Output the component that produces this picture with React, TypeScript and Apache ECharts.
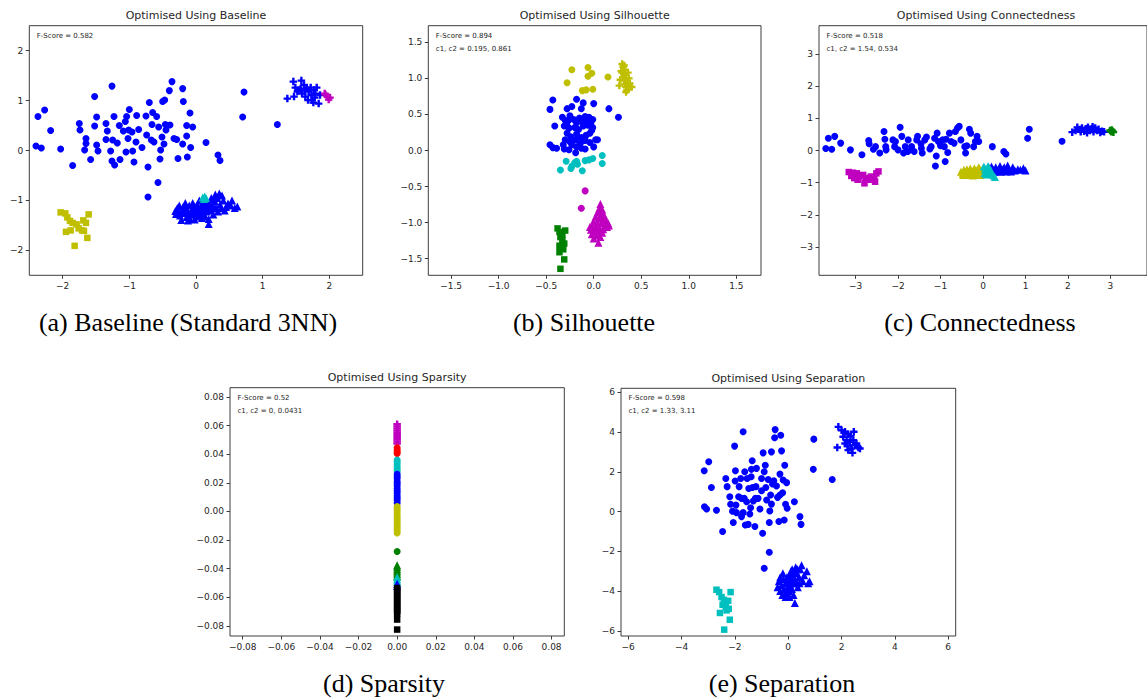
import React, { useEffect, useRef } from "react";
import * as echarts from "echarts";

type P = [number, number];

// ---------- (a) Baseline ----------
const A_BLUE_CIRCLES: P[] = [
  [-2.40, 0.09], [-2.32, 0.05], [-2.37, 0.68], [-2.27, 0.81], [-2.18, 0.40], [-2.03, 0.03], [-1.85, -0.30],
  [-1.75, 0.54], [-1.74, 0.41], [-1.65, 0.24], [-1.65, 0.14], [-1.67, 0.01], [-1.58, -0.18], [-1.52, 1.08],
  [-1.49, 0.67], [-1.52, 0.49], [-1.49, 0.11], [-1.47, -0.01], [-1.35, 0.54], [-1.33, 0.39], [-1.35, 0.22],
  [-1.28, -0.01], [-1.26, 1.29], [-1.23, 0.68], [-1.25, 0.21], [-1.26, -0.21], [-1.22, -0.29], [-1.18, 0.15],
  [-1.15, 0.50], [-1.14, -0.18], [-1.09, 0.39], [-1.06, 0.58], [-1.04, 0.68], [-1.00, 0.82], [-1.02, 0.24],
  [-1.05, -0.03], [-1.01, 0.41], [-0.96, 0.37], [-0.95, -0.01], [-0.93, -0.23], [-0.90, 0.17], [-0.89, 0.70],
  [-0.86, 0.42], [-0.81, 0.06], [-0.75, 0.69], [-0.74, 0.31], [-0.72, -0.33], [-0.67, 0.21], [-0.66, 0.52],
  [-0.65, 0.76], [-0.63, 0.17], [-0.59, 0.68], [-0.70, 0.96], [-0.56, 0.47], [-0.54, -0.17], [-0.51, 0.27],
  [-0.48, 0.13], [-0.46, 0.52], [-0.50, 0.98], [-0.47, 1.01], [-0.53, 0.01], [-0.45, 0.41], [-0.40, 1.20],
  [-0.36, 1.38], [-0.39, 0.51], [-0.33, 0.24], [-0.29, 0.22], [-0.27, -0.16], [-0.20, 1.24], [-0.19, 0.98],
  [-0.20, 0.13], [-0.14, 0.29], [-0.14, 0.50], [-0.13, -0.13], [-0.09, 0.75], [-0.08, 0.06], [-0.05, 0.47],
  [0.15, 0.16], [0.33, -0.09], [0.36, -0.20], [-0.57, -0.64], [-0.72, -0.93], [0.70, 0.67], [0.72, 1.17],
  [1.22, 0.52],
];
const A_BLUE_TRIANGLES: P[] = [
  [-0.31, -1.21], [-0.30, -1.27], [-0.28, -1.15], [-0.25, -1.10], [-0.24, -1.30], [-0.22, -1.39], [-0.20, -1.20],
  [-0.18, -1.25], [-0.16, -1.05], [-0.15, -1.15], [-0.14, -1.33], [-0.12, -1.22], [-0.10, -1.10], [-0.09, -1.37],
  [-0.08, -1.28], [-0.06, -1.18], [-0.05, -1.05], [-0.04, -1.25], [-0.02, -1.12], [0.00, -1.32], [0.00, -1.20],
  [0.02, -1.08], [0.03, -1.16], [0.04, -1.28], [0.05, -1.00], [0.06, -1.22], [0.08, -1.12], [0.09, -1.35],
  [0.10, -1.05], [0.11, -1.18], [0.12, -1.27], [0.14, -1.10], [0.15, -1.00], [0.16, -1.22], [0.18, -1.15],
  [0.19, -1.37], [0.19, -1.47], [0.20, -1.05], [0.22, -1.20], [0.23, -0.95], [0.25, -1.10], [0.26, -1.28],
  [0.28, -1.02], [0.29, -0.88], [0.30, -1.15], [0.32, -0.95], [0.33, -1.22], [0.35, -0.86], [0.36, -1.08],
  [0.38, -1.15], [0.39, -0.90], [0.41, -1.00], [0.43, -1.20], [0.45, -1.13], [0.48, -1.06], [0.52, -1.10],
  [0.54, -1.00], [0.58, -1.15], [0.62, -1.12], [-0.27, -1.22], [-0.10, -1.28], [0.07, -1.30], [-0.19, -1.12],
  [0.13, -1.32], [0.24, -1.16], [-0.02, -1.38], [0.17, -1.08], [0.27, -0.98], [-0.12, -1.40],
];
const A_CYAN_TRIANGLES: P[] = [[0.10, -0.94], [0.13, -0.92], [0.12, -0.97], [0.15, -0.95]];
const A_YELLOW_SQUARES: P[] = [
  [-2.03, -1.24], [-1.96, -1.26], [-1.93, -1.34], [-1.89, -1.41], [-1.85, -1.45], [-1.79, -1.48], [-1.88, -1.60],
  [-1.95, -1.63], [-1.69, -1.40], [-1.65, -1.45], [-1.71, -1.60], [-1.68, -1.61], [-1.63, -1.75], [-1.61, -1.28],
  [-1.82, -1.91], [-1.76, -1.56],
];
const A_BLUE_PLUS: P[] = [
  [1.37, 1.04], [1.46, 1.38], [1.49, 1.26], [1.54, 1.21], [1.58, 1.40], [1.62, 1.31], [1.66, 1.26], [1.69, 1.18],
  [1.73, 1.11], [1.77, 1.21], [1.81, 1.26], [1.74, 1.01], [1.78, 1.06], [1.84, 0.94], [1.72, 1.26], [1.59, 1.14],
  [1.64, 1.08], [1.68, 1.01], [1.57, 1.24], [1.47, 1.08], [1.52, 1.18], [1.86, 1.11], [1.63, 1.20], [1.79, 1.14],
  [1.76, 0.96],
];
const A_MAGENTA_PLUS: P[] = [[1.94, 1.12], [1.97, 1.08], [1.99, 1.02], [1.93, 1.14], [2.01, 1.06]];

// ---------- (b) Silhouette ----------
const B_YELLOW_CIRCLES: P[] = [
  [-0.23, 1.12], [-0.06, 1.15], [-0.06, 1.03], [-0.02, 1.07], [-0.28, 0.94], [0.15, 1.02], [-0.12, 0.83],
  [-0.08, 0.84], [-0.01, 0.85],
];
const B_YELLOW_PLUS: P[] = [
  [0.30, 1.20], [0.31, 1.16], [0.32, 1.12], [0.30, 1.08], [0.33, 1.05], [0.31, 1.02], [0.34, 1.00], [0.32, 0.97],
  [0.35, 0.95], [0.33, 0.92], [0.36, 0.90], [0.34, 0.88], [0.37, 0.86], [0.35, 0.84], [0.28, 0.98], [0.38, 0.93],
  [0.36, 1.08], [0.29, 1.10], [0.34, 0.81], [0.32, 1.18], [0.40, 0.88], [0.27, 0.90], [0.37, 1.00],
];
const B_BLUE_CIRCLES: P[] = [
  [-0.43, 0.70], [-0.46, 0.57], [-0.18, 0.71], [-0.11, 0.66], [0.00, 0.65], [0.16, 0.58], [0.26, 0.46],
  [-0.28, 0.58], [-0.23, 0.61], [-0.13, 0.58], [-0.09, 0.47], [-0.05, 0.46], [-0.01, 0.43], [-0.33, 0.46],
  [-0.30, 0.42], [-0.25, 0.48], [-0.21, 0.43], [-0.18, 0.38], [-0.12, 0.40], [-0.07, 0.42], [-0.03, 0.38],
  [-0.41, 0.34], [-0.31, 0.34], [-0.26, 0.31], [-0.20, 0.32], [-0.16, 0.29], [-0.11, 0.34], [-0.06, 0.35],
  [-0.02, 0.28], [-0.28, 0.24], [-0.24, 0.19], [-0.18, 0.23], [-0.13, 0.18], [-0.08, 0.21], [-0.04, 0.24],
  [0.04, 0.15], [-0.30, 0.15], [-0.25, 0.12], [-0.19, 0.15], [-0.14, 0.10], [-0.09, 0.14], [-0.04, 0.11],
  [0.00, 0.05], [-0.46, 0.08], [-0.43, 0.04], [-0.39, 0.03], [-0.31, 0.02], [-0.26, 0.01], [-0.19, -0.03],
  [-0.13, 0.03], [-0.09, 0.02], [-0.32, 0.08], [-0.18, 0.05], [-0.27, 0.41], [-0.15, 0.45], [-0.23, 0.08],
  [-0.01, 0.32], [0.02, 0.15], [-0.28, 0.34],
];
const B_CYAN_CIRCLES: P[] = [
  [-0.29, -0.15], [-0.20, -0.17], [-0.17, -0.19], [-0.23, -0.22], [-0.35, -0.27], [-0.12, -0.28], [-0.09, -0.14],
  [-0.05, -0.13], [-0.01, -0.11], [0.09, -0.07], [0.09, -0.18], [-0.18, -0.15], [-0.24, -0.25],
];
const B_MAGENTA_CIRCLES: P[] = [[-0.09, -0.56], [-0.13, -0.80]];
const B_MAGENTA_TRIANGLES: P[] = [
  [0.07, -0.74], [0.06, -0.80], [0.09, -0.82], [0.04, -0.86], [0.08, -0.88], [0.11, -0.90], [0.02, -0.92],
  [0.06, -0.94], [0.10, -0.96], [0.13, -0.97], [0.00, -0.98], [0.04, -1.00], [0.08, -1.01], [0.12, -1.03],
  [0.15, -1.00], [-0.02, -1.04], [0.02, -1.06], [0.06, -1.07], [0.10, -1.09], [0.14, -1.06], [-0.03, -1.10],
  [0.01, -1.12], [0.05, -1.13], [0.09, -1.14], [-0.02, -1.16], [0.03, -1.18], [0.07, -1.20], [0.00, -1.22],
  [0.05, -1.28], [0.16, -1.04], [-0.04, -1.06], [0.11, -0.93],
];
const B_GREEN_SQUARES: P[] = [
  [-0.38, -1.08], [-0.36, -1.13], [-0.30, -1.11], [-0.35, -1.20], [-0.33, -1.24], [-0.31, -1.29], [-0.36, -1.32],
  [-0.32, -1.37], [-0.36, -1.41], [-0.31, -1.51], [-0.35, -1.64], [-0.33, -1.17],
];

// ---------- (c) Connectedness ----------
const C_BLUE_CIRCLES: P[] = [
  [-3.70, 0.06], [-3.64, 0.38], [-3.56, 0.04], [-3.49, 0.44], [-3.35, 0.23], [-3.12, 0.02], [-2.85, -0.13],
  [-2.69, 0.31], [-2.68, 0.21], [-2.58, 0.04], [-2.53, 0.12], [-2.43, -0.08], [-2.33, 0.59], [-2.31, 0.35],
  [-2.28, 0.02], [-2.29, 0.12], [-2.08, 0.12], [-2.06, 0.28], [-1.95, 0.72], [-1.91, 0.44], [-1.87, -0.08],
  [-1.83, 0.12], [-1.76, 0.33], [-1.68, 0.12], [-1.62, -0.03], [-1.56, 0.33], [-1.54, 0.44], [-1.46, 0.21],
  [-1.43, -0.08], [-1.37, 0.33], [-1.33, 0.42], [-1.25, 0.05], [-1.22, 0.12], [-1.14, 0.38], [-1.10, -0.17],
  [-1.08, 0.54], [-1.05, 0.28], [-1.00, 0.15], [-0.95, 0.33], [-0.87, 0.35], [-0.83, -0.06], [-0.79, 0.54],
  [-0.75, 0.28], [-0.68, 0.23], [-0.65, 0.59], [-0.60, 0.70], [-0.56, 0.75], [-0.52, 0.33], [-0.43, 0.12],
  [-0.41, -0.08], [-0.32, 0.66], [-0.29, 0.54], [-0.22, 0.12], [-0.18, 0.28], [-0.14, 0.44], [-0.10, 0.28],
  [0.22, 0.12], [0.49, -0.03], [0.54, -0.11], [-1.12, -0.48], [-0.89, -0.34], [1.05, 0.38], [1.09, 0.66],
  [1.86, 0.29], [-2.12, 0.33], [-2.00, 0.02], [-1.45, 0.07], [-1.77, -0.03], [-0.91, 0.12], [-0.38, 0.15],
];
const C_MAGENTA_SQUARES: P[] = [
  [-3.16, -0.67], [-3.06, -0.69], [-2.97, -0.71], [-2.91, -0.81], [-2.82, -0.76], [-2.76, -0.86], [-2.68, -0.91],
  [-2.56, -0.89], [-2.51, -0.71], [-2.46, -0.65], [-3.03, -0.86], [-2.79, -1.02], [-2.54, -0.97], [-2.95, -0.91],
  [-2.64, -0.81], [-3.10, -0.79],
];
const C_YELLOW_TRIANGLES: P[] = [
  [-0.52, -0.66], [-0.48, -0.72], [-0.45, -0.60], [-0.42, -0.68], [-0.40, -0.76], [-0.36, -0.62], [-0.33, -0.70],
  [-0.30, -0.56], [-0.28, -0.74], [-0.25, -0.64], [-0.22, -0.70], [-0.20, -0.55], [-0.17, -0.76], [-0.15, -0.62],
  [-0.12, -0.68], [-0.10, -0.52], [-0.08, -0.74], [-0.05, -0.60], [-0.03, -0.70], [0.00, -0.56], [0.01, -0.66],
  [-0.38, -0.58], [-0.24, -0.78], [-0.06, -0.76], [-0.46, -0.76],
];
const C_BLUE_TRIANGLES: P[] = [
  [0.15, -0.55], [0.20, -0.50], [0.25, -0.60], [0.30, -0.52], [0.35, -0.62], [0.40, -0.48], [0.45, -0.58],
  [0.50, -0.52], [0.55, -0.65], [0.58, -0.47], [0.62, -0.58], [0.66, -0.65], [0.70, -0.52], [0.75, -0.62],
  [0.82, -0.58], [0.88, -0.60], [0.95, -0.55], [1.00, -0.62], [0.42, -0.66], [0.28, -0.66], [0.52, -0.60],
];
const C_CYAN_TRIANGLES: P[] = [
  [0.02, -0.50], [0.05, -0.58], [0.08, -0.64], [0.04, -0.70], [0.10, -0.55], [0.13, -0.62], [0.16, -0.70],
  [0.20, -0.74], [0.25, -0.78], [0.28, -0.82], [0.07, -0.75], [0.12, -0.48], [0.18, -0.60],
];
const C_BLUE_PLUS: P[] = [
  [2.10, 0.57], [2.18, 0.62], [2.22, 0.72], [2.28, 0.65], [2.33, 0.70], [2.38, 0.60], [2.42, 0.68], [2.47, 0.72],
  [2.52, 0.62], [2.56, 0.67], [2.60, 0.58], [2.64, 0.70], [2.68, 0.62], [2.72, 0.66], [2.76, 0.56], [2.80, 0.60],
  [2.85, 0.58], [2.45, 0.55], [2.30, 0.58], [2.58, 0.74],
];
const C_GREEN_PLUS: P[] = [[2.99, 0.62], [3.02, 0.58], [3.05, 0.60], [3.03, 0.64], [3.07, 0.57]];

// ---------- (d) Sparsity (all x = 0) ----------
const D_MAGENTA_PLUS: number[] = [0.061, 0.0595, 0.058, 0.0565, 0.055, 0.0535, 0.052, 0.0505, 0.049, 0.0475];
const D_RED_CIRCLES: number[] = [0.0445, 0.043, 0.0415, 0.0405];
const D_CYAN_CIRCLES: number[] = [0.036, 0.0345, 0.033, 0.031, 0.0295, 0.028];
const D_BLUE_CIRCLES: number[] = [0.026, 0.0245, 0.023, 0.021, 0.0195, 0.018, 0.016, 0.0145, 0.013, 0.011, 0.0095, 0.008, 0.006];
const D_YELLOW_CIRCLES: number[] = [0.0035, 0.002, 0.0005, -0.001, -0.003, -0.0045, -0.006, -0.0075, -0.009, -0.0105, -0.012, -0.0135, -0.015];
const D_GREEN_CIRCLES: number[] = [-0.028];
const D_GREEN_TRIANGLES: number[] = [-0.0375, -0.039, -0.0405, -0.042, -0.0435, -0.045];
const D_CYAN_TRIANGLES: number[] = [-0.046, -0.0475, -0.049];
const D_BLUE_TRIANGLES: number[] = [-0.0505, -0.052];
const D_BLACK_SQUARES: number[] = [
  -0.0535, -0.055, -0.0565, -0.058, -0.0595, -0.061, -0.0625, -0.064, -0.0655, -0.067, -0.0685, -0.070, -0.0715,
  -0.0755, -0.0825,
];

// ---------- (e) Separation ----------
const E_BLUE_CIRCLES: P[] = [
  [-3.14, 0.25], [-3.06, 0.13], [-3.15, 2.06], [-2.98, 2.51], [-2.88, 1.22], [-2.69, 0.07], [-2.46, -1.00],
  [-2.34, 1.67], [-2.29, 1.26], [-2.19, 0.75], [-2.16, 0.37], [-2.09, 0.02], [-2.06, -0.55], [-2.01, 3.30],
  [-1.98, 2.06], [-1.99, 1.54], [-1.96, 0.33], [-1.94, -0.05], [-1.84, 1.26], [-1.78, 1.67], [-1.75, 0.67],
  [-1.69, -0.05], [-1.65, 0.67], [-1.63, 2.01], [-1.61, -0.67], [-1.56, 0.50], [-1.54, 1.67], [-1.50, -0.64],
  [-1.48, 1.17], [-1.44, -0.12], [-1.39, 1.76], [-1.38, 2.13], [-1.35, 2.56], [-1.34, 1.22], [-1.31, 0.54],
  [-1.25, -0.75], [-1.21, 1.26], [-1.19, 2.18], [-1.13, 0.67], [-1.06, 0.13], [-1.00, 1.05], [-0.96, -1.09],
  [-0.94, 2.96], [-0.90, 2.01], [-0.86, 2.34], [-0.81, 0.59], [-0.75, 1.62], [-0.69, 0.03], [-0.71, -0.55],
  [-0.66, 0.84], [-0.63, 3.01], [-0.63, 0.38], [-0.59, 1.39], [-0.54, 1.56], [-0.51, 3.72], [-0.49, 4.13],
  [-0.44, 1.29], [-0.40, 0.72], [-0.35, -0.50], [-0.31, 1.89], [-0.28, 3.85], [-0.25, 3.06], [-0.21, 0.95],
  [-0.19, 1.59], [-0.15, -0.42], [-0.13, 2.34], [-0.10, 0.37], [-0.06, 1.46], [-0.04, 0.17], [0.23, 0.50],
  [0.44, -0.25], [0.48, -0.64], [0.94, 2.13], [0.96, 3.65], [1.65, 1.62], [-1.69, 4.02], [-0.90, -2.85],
  [-0.71, -2.04], [-1.23, 0.67], [-1.00, 1.67], [-1.41, 0.20], [-1.75, -0.25], [-1.86, 0.75], [-0.84, 1.22],
  [-0.31, 0.84],
];
const E_CYAN_SQUARES: P[] = [
  [-2.69, -3.93], [-2.59, -4.05], [-2.50, -4.30], [-2.41, -4.44], [-2.34, -4.80], [-2.25, -4.49], [-2.16, -4.05],
  [-2.23, -4.89], [-2.56, -5.10], [-2.31, -4.97], [-2.40, -5.94], [-2.19, -5.44], [-2.46, -4.69],
];
const E_BLUE_TRIANGLES: P[] = [
  [-0.40, -3.8], [-0.35, -3.5], [-0.30, -4.0], [-0.25, -3.7], [-0.22, -4.2], [-0.18, -3.4], [-0.15, -3.9],
  [-0.10, -3.6], [-0.08, -4.1], [-0.05, -3.3], [-0.02, -3.8], [0.00, -3.5], [0.03, -4.0], [0.05, -3.2],
  [0.08, -3.7], [0.10, -3.0], [0.12, -3.4], [0.14, -3.9], [0.16, -3.2], [0.18, -3.6], [0.20, -4.2], [0.22, -3.0],
  [0.25, -3.4], [0.28, -2.8], [0.30, -3.6], [0.33, -3.1], [0.36, -3.8], [0.40, -3.3], [0.45, -2.9], [0.50, -2.7],
  [0.55, -3.5], [0.60, -3.2], [0.70, -3.0], [0.80, -3.5], [0.75, -3.6], [0.25, -4.6], [-0.10, -4.3], [0.05, -4.3],
  [-0.30, -3.3], [0.15, -2.9], [0.35, -2.9], [-0.20, -3.1], [0.42, -3.6],
];
const E_BLUE_PLUS: P[] = [
  [1.88, 4.27], [2.00, 4.10], [2.13, 4.02], [2.25, 3.90], [2.06, 3.77], [2.19, 3.60], [2.31, 3.51], [2.44, 3.60],
  [2.50, 3.35], [2.63, 3.23], [2.38, 3.18], [2.25, 3.10], [2.41, 2.96], [1.84, 3.23], [2.56, 3.43], [2.13, 3.43],
  [2.34, 3.80], [2.69, 3.18], [2.46, 4.02], [2.22, 3.30],
];

// ---------- ticks / titles ----------
const TICKS_A = [-2, -1, 0, 1, 2];
const TICKS_B = [-1.5, -1, -0.5, 0, 0.5, 1, 1.5];
const TICKS_C = [-3, -2, -1, 0, 1, 2, 3];
const TICKS_D = [-0.08, -0.06, -0.04, -0.02, 0, 0.02, 0.04, 0.06, 0.08];
const TICKS_E = [-6, -4, -2, 0, 2, 4, 6];

const TITLES = [
  "Optimised Using Baseline",
  "Optimised Using Silhouette",
  "Optimised Using Connectedness",
  "Optimised Using Sparsity",
  "Optimised Using Separation",
];
const NOTES = [
  ["F-Score = 0.582"],
  ["F-Score = 0.894", "c1, c2 = 0.195, 0.861"],
  ["F-Score = 0.518", "c1, c2 = 1.54, 0.534"],
  ["F-Score = 0.52", "c1, c2 = 0, 0.0431"],
  ["F-Score = 0.598", "c1, c2 = 1.33, 3.11"],
];
const CAPTIONS = [
  "(a) Baseline (Standard 3NN)",
  "(b) Silhouette",
  "(c) Connectedness",
  "(d) Sparsity",
  "(e) Separation",
];

const BLUE = "#0000ff";
const CYAN = "#00bfbf";
const MAGENTA = "#bf00bf";
const YELLOW = "#bfbf00";
const GREEN = "#008000";
const RED = "#ff0000";
const BLACK = "#000000";

const PLUS = "path://M3.4,0H6.6V3.4H10V6.6H6.6V10H3.4V6.6H0V3.4H3.4Z";
const FONT = "DejaVu Sans";
const TXT = "#262626";
const SPINE = "#3c3c3c";

const PANELS = [
  { left: 29.3, top: 25.7, width: 333.4, height: 249.6, xr: [-2.5, 2.5], yr: [-2.5, 2.5], ticks: TICKS_A, dec: 0, capX: 188, capY: 322 },
  { left: 428.3, top: 25.7, width: 332.7, height: 249.6, xr: [-1.74, 1.76], yr: [-1.73, 1.73], ticks: TICKS_B, dec: 1, capX: 584, capY: 322 },
  { left: 819, top: 25.7, width: 334, height: 249.6, xr: [-3.86, 3.86], yr: [-3.88, 3.88], ticks: TICKS_C, dec: 0, capX: 980, capY: 322 },
  { left: 230, top: 387.7, width: 334.3, height: 248.3, xr: [-0.0866, 0.0866], yr: [-0.0870, 0.0865], ticks: TICKS_D, dec: 2, capX: 384, capY: 683 },
  { left: 621, top: 388.3, width: 334.7, height: 247.7, xr: [-6.27, 6.28], yr: [-6.26, 6.21], ticks: TICKS_E, dec: 0, capX: 782, capY: 683 },
];

const fmt = (dec: number) => (v: number) => {
  const s = (Math.abs(v) < 1e-12 ? 0 : v).toFixed(dec);
  return s.replace("-", "\u2212");
};

const col = (ys: number[]): P[] => ys.map((y) => [0, y]);

function sc(i: number, data: P[], symbol: string, color: string, size: number) {
  return {
    type: "scatter",
    xAxisIndex: i,
    yAxisIndex: i,
    data,
    symbol,
    symbolSize: size,
    itemStyle: { color, opacity: 1 },
    silent: true,
    clip: true,
  };
}

export default function App() {
  const ref = useRef<HTMLDivElement>(null);
  useEffect(() => {
    if (!ref.current) return;
    const chart = echarts.init(ref.current, undefined, { renderer: "svg" });

    const CIRC = 7;
    const TRI = 8;
    const SQ = 6.5;
    const PL = 7.5;

    const series: any[] = [
      sc(0, A_BLUE_CIRCLES, "circle", BLUE, CIRC),
      sc(0, A_BLUE_TRIANGLES, "triangle", BLUE, TRI),
      sc(0, A_CYAN_TRIANGLES, "triangle", CYAN, TRI),
      sc(0, A_YELLOW_SQUARES, "rect", YELLOW, SQ),
      sc(0, A_BLUE_PLUS, PLUS, BLUE, PL),
      sc(0, A_MAGENTA_PLUS, PLUS, MAGENTA, PL),

      sc(1, B_YELLOW_CIRCLES, "circle", YELLOW, CIRC),
      sc(1, B_YELLOW_PLUS, PLUS, YELLOW, PL),
      sc(1, B_BLUE_CIRCLES, "circle", BLUE, CIRC),
      sc(1, B_CYAN_CIRCLES, "circle", CYAN, CIRC),
      sc(1, B_MAGENTA_CIRCLES, "circle", MAGENTA, CIRC),
      sc(1, B_MAGENTA_TRIANGLES, "triangle", MAGENTA, TRI),
      sc(1, B_GREEN_SQUARES, "rect", GREEN, SQ),

      sc(2, C_BLUE_CIRCLES, "circle", BLUE, CIRC),
      sc(2, C_MAGENTA_SQUARES, "rect", MAGENTA, SQ),
      sc(2, C_BLUE_TRIANGLES, "triangle", BLUE, TRI),
      sc(2, C_YELLOW_TRIANGLES, "triangle", YELLOW, TRI),
      sc(2, C_CYAN_TRIANGLES, "triangle", CYAN, TRI),
      sc(2, C_BLUE_PLUS, PLUS, BLUE, PL),
      sc(2, C_GREEN_PLUS, PLUS, GREEN, PL),

      sc(3, col(D_MAGENTA_PLUS), PLUS, MAGENTA, PL),
      sc(3, col(D_RED_CIRCLES), "circle", RED, CIRC),
      sc(3, col(D_CYAN_CIRCLES), "circle", CYAN, CIRC),
      sc(3, col(D_BLUE_CIRCLES), "circle", BLUE, CIRC),
      sc(3, col(D_YELLOW_CIRCLES), "circle", YELLOW, CIRC),
      sc(3, col(D_GREEN_CIRCLES), "circle", GREEN, CIRC),
      sc(3, col(D_GREEN_TRIANGLES), "triangle", GREEN, TRI),
      sc(3, col(D_CYAN_TRIANGLES), "triangle", CYAN, TRI),
      sc(3, col(D_BLUE_TRIANGLES), "triangle", BLUE, TRI),
      sc(3, col(D_BLACK_SQUARES), "rect", BLACK, SQ),

      sc(4, E_BLUE_CIRCLES, "circle", BLUE, CIRC),
      sc(4, E_CYAN_SQUARES, "rect", CYAN, SQ),
      sc(4, E_BLUE_TRIANGLES, "triangle", BLUE, TRI),
      sc(4, E_BLUE_PLUS, PLUS, BLUE, PL),
    ];

    const grid = PANELS.map((p) => ({
      left: p.left,
      top: p.top,
      width: p.width,
      height: p.height,
      show: true,
      borderColor: SPINE,
      borderWidth: 1,
      backgroundColor: "#ffffff",
    }));

    const axisCommon = (p: any, i: number, isX: boolean) => ({
      type: "value",
      gridIndex: i,
      min: isX ? p.xr[0] : p.yr[0],
      max: isX ? p.xr[1] : p.yr[1],
      axisLine: { show: false, onZero: false },
      splitLine: { show: false },
      axisTick: {
        show: true,
        inside: false,
        length: 3.5,
        lineStyle: { color: SPINE, width: 1 },
        customValues: p.ticks,
      },
      axisLabel: {
        show: true,
        customValues: p.ticks,
        formatter: fmt(p.dec),
        fontFamily: FONT,
        fontSize: 9,
        color: TXT,
        margin: 6,
      },
    });

    const xAxis = PANELS.map((p, i) => ({ ...axisCommon(p, i, true), position: "bottom" }));
    const yAxis = PANELS.map((p, i) => ({ ...axisCommon(p, i, false), position: "left" }));

    const graphic: any[] = [];
    PANELS.forEach((p, i) => {
      graphic.push({
        type: "text",
        x: p.left + p.width / 2,
        y: p.top - 10,
        style: {
          text: TITLES[i],
          font: `11px "${FONT}"`,
          fill: TXT,
          textAlign: "center",
          textVerticalAlign: "middle",
        },
        silent: true,
      });
      NOTES[i].forEach((t, k) => {
        graphic.push({
          type: "text",
          x: p.left + 7.5,
          y: p.top + 10 + k * 12.8,
          style: {
            text: t,
            font: `7px "${FONT}"`,
            fill: TXT,
            textAlign: "left",
            textVerticalAlign: "middle",
          },
          silent: true,
          z: 10,
        });
      });
      graphic.push({
        type: "text",
        x: p.capX,
        y: p.capY,
        style: {
          text: CAPTIONS[i],
          font: `26px "Liberation Serif"`,
          fill: "#000000",
          textAlign: "center",
          textVerticalAlign: "middle",
        },
        silent: true,
      });
    });

    chart.setOption({
      animation: false,
      backgroundColor: "#ffffff",
      grid,
      xAxis,
      yAxis,
      series,
      graphic,
    });

    return () => chart.dispose();
  }, []);

  return (
    <div
      ref={ref}
      style={{ position: "absolute", left: 0, top: 0, width: 1147, height: 698 }}
    />
  );
}
